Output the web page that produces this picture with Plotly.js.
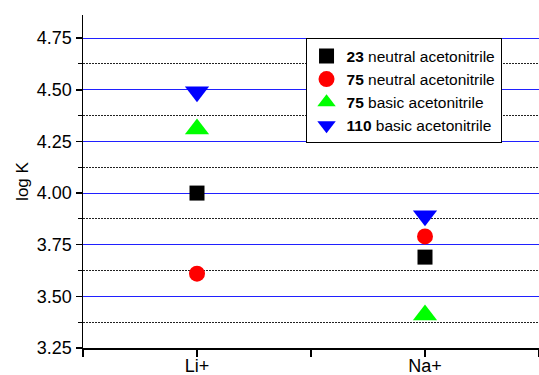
<!DOCTYPE html>
<html>
<head>
<meta charset="utf-8">
<script src="https://cdn.plot.ly/plotly-3.0.1.min.js"></script>
<style>html,body{margin:0;padding:0;background:#fff;}#chart{width:539px;height:375px;}</style>
</head>
<body>
<div id="chart"></div>
<script>
// Data
var ions = ["Li+", "Na+"];
var ionPos = [1, 2];
var seriesNames = ["<b>23</b> neutral acetonitrile", "<b>75</b> neutral acetonitrile", "<b>75</b> basic acetonitrile", "<b>110</b> basic acetonitrile"];
var neutral23 = [4.00, 3.69];
var neutral75 = [3.61, 3.79];
var basic75 = [4.31, 3.41];
var basic110 = [4.49, 3.89];
var yTicks = [3.25, 3.50, 3.75, 4.00, 4.25, 4.50, 4.75];

var styles = [
  {symbol: "square", color: "#000000", size: 15},
  {symbol: "circle", color: "#ff0000", size: 16},
  {symbol: "triangle-up", color: "#00ff00", size: 21},
  {symbol: "triangle-down", color: "#0000ff", size: 21}
];
var values = [neutral23, neutral75, basic75, basic110];

var traces = values.map(function (v, i) {
  return {
    x: ionPos, y: v, name: seriesNames[i], type: "scatter", mode: "markers",
    marker: {symbol: styles[i].symbol, color: styles[i].color, size: styles[i].size, line: {width: 0}}
  };
});

var layout = {
  width: 539, height: 375,
  margin: {l: 83, r: 0, t: 15, b: 27},
  paper_bgcolor: "#ffffff", plot_bgcolor: "#ffffff",
  font: {family: "Liberation Sans", color: "#000", size: 17},
  showlegend: true,
  legend: {
    x: 0.488, y: 0.93, xanchor: "left", yanchor: "top",
    bgcolor: "#ffffff", bordercolor: "#000000", borderwidth: 1,
    font: {family: "Liberation Sans", size: 15.5}, tracegroupgap: 0
  },
  xaxis: {
    range: [0.5, 2.5], tickmode: "array",
    tickvals: [0.5, 1, 1.5, 2, 2.5], ticktext: ["", ions[0], "", ions[1], ""],
    showgrid: false, zeroline: false, showline: true, linecolor: "#000", linewidth: 1.5,
    ticks: "outside", ticklen: 7, tickwidth: 1.5, tickcolor: "#000",
    ticklabelstandoff: -6,
    tickfont: {family: "Liberation Sans", size: 18}
  },
  yaxis: {
    range: [3.25, 4.862], tickmode: "array", tickvals: yTicks,
    ticktext: yTicks.map(function (t) { return t.toFixed(2); }),
    showgrid: true, gridcolor: "#2020ff", gridwidth: 1,
    zeroline: false, showline: true, linecolor: "#000", linewidth: 1.5,
    ticks: "outside", ticklen: 6, tickwidth: 1.5, tickcolor: "#000",
    tickfont: {family: "Liberation Sans", size: 18},
    title: {text: "log K", font: {family: "Liberation Sans", size: 17}, standoff: 4},
    minor: {
      tickmode: "linear", tick0: 3.375, dtick: 0.25,
      showgrid: true, gridcolor: "#222", griddash: "2px,1px", gridwidth: 1,
      ticks: "outside", ticklen: 4, tickcolor: "#000", tickwidth: 1
    }
  }
};

Plotly.newPlot("chart", traces, layout, {displayModeBar: false, staticPlot: true});
</script>
</body>
</html>
